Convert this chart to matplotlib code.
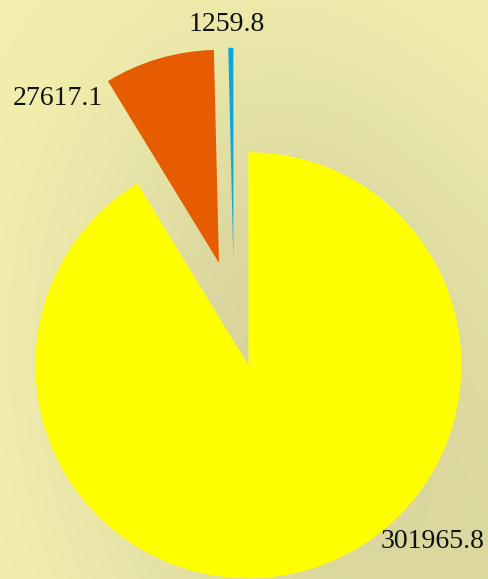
import numpy as np
import matplotlib
matplotlib.use("Agg")
import matplotlib.pyplot as plt

# Data
values = [301965.8, 27617.1, 1259.8]
labels = ["301965.8", "27617.1", "1259.8"]
colors = ["#ffff00", "#e65c00", "#0aa6e2"]
explode = [0.25, 0.25, 0.25]

# where each label sits: angle (deg) and distance from its own slice centre
label_angles = [-43.8, 134.5, 91.5]
label_dists = [1.195, 1.08, 1.11]

W, H = 488, 579
fig = plt.figure(figsize=(W / 100, H / 100), dpi=100)

# background gradient (pale yellow at the left, tan toward centre / lower right)
bg = fig.add_axes([0, 0, 1, 1])
yy, xx = np.mgrid[0:H, 0:W]
rad = np.exp(-(((xx - 270) / 230.0) ** 2 + ((yy - 340) / 330.0) ** 2))
corner = (xx / W) ** 1.5 * (yy / H) ** 1.2
f = np.clip(0.75 * rad + 0.6 * corner, 0, 1)
light = np.array([0.960, 0.950, 0.690])
dark = np.array([0.830, 0.815, 0.605])
img = light[None, None, :] + (dark - light)[None, None, :] * f[:, :, None]
bg.imshow(img, aspect="auto", extent=(0, W, H, 0))
bg.axis("off")

ax = fig.add_axes([0, 0, 1, 1])
ax.patch.set_alpha(0)
r_px = 213.0
cx, cy = 234.0, 314.0
wedges, _ = ax.pie(values, colors=colors, explode=explode, startangle=90,
                   counterclock=False, radius=1.0, frame=False,
                   wedgeprops=dict(linewidth=0))

for w, lab, a, d in zip(wedges, labels, label_angles, label_dists):
    x0, y0 = w.center
    t = np.deg2rad(a)
    ax.text(x0 + d * np.cos(t), y0 + d * np.sin(t), lab, ha="center", va="center",
            fontsize=20, family="Liberation Serif", color="#111111")

ax.set_aspect("auto")
ax.set_xlim(-cx / r_px, (W - cx) / r_px)
ax.set_ylim(-(H - cy) / r_px, cy / r_px)
ax.axis("off")

fig.savefig("out.png", dpi=100)
